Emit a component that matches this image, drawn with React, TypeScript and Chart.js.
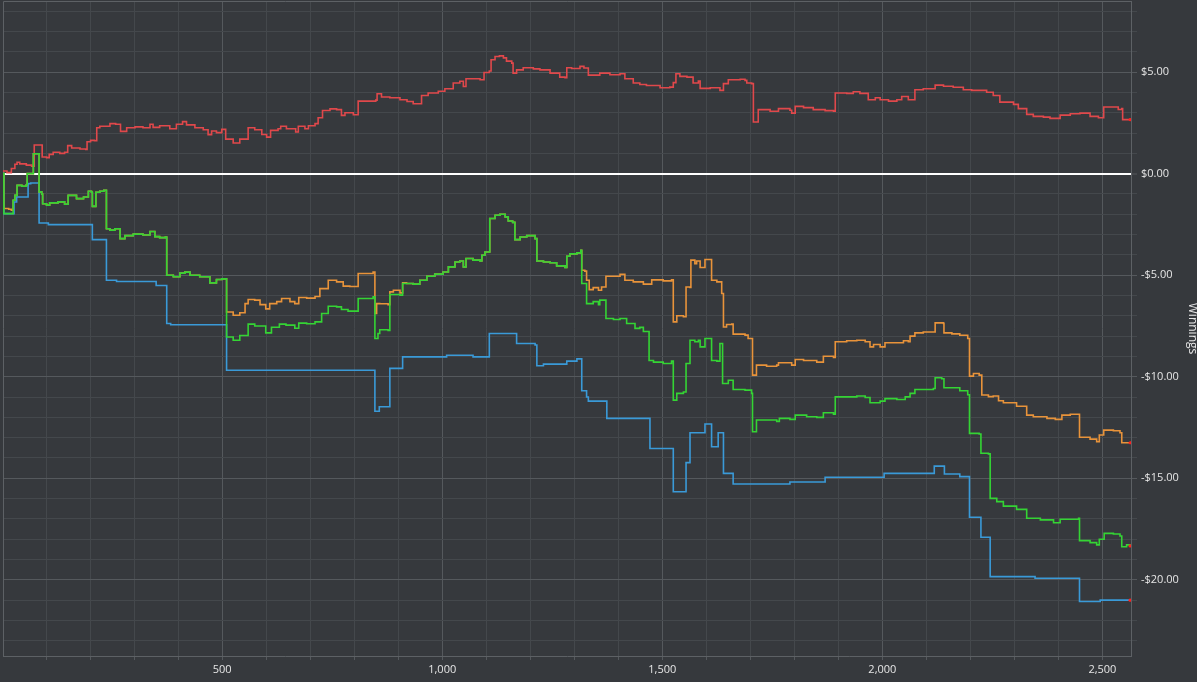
import React, { useEffect, useRef } from "react";
import Chart from "chart.js/auto";

// Hand number / winnings ($) breakpoints (value holds until next point)
const redSeries: [number, number][] = [
  [2, 0.13], [11, 0.05], [21, 0.25], [29, 0.46], [34, 0.56], [40, 0.48], [55, 0.42], [67, 0.36], [73, 1.41], [91, 0.82],
  [101, 0.79], [107, 0.95], [116, 1.05], [131, 1.0], [142, 1.05], [149, 1.38], [158, 1.26], [177, 1.21], [190, 1.19], [193, 1.57],
  [201, 1.64], [210, 1.62], [215, 2.26], [222, 2.33], [245, 2.46], [258, 2.43], [269, 2.08], [283, 2.26], [302, 2.3], [320, 2.26],
  [336, 2.43], [343, 2.28], [358, 2.36], [381, 2.21], [396, 2.43], [410, 2.56], [419, 2.4], [438, 2.26], [457, 2.16], [468, 1.92],
  [476, 2.1], [487, 2.02], [499, 2.18], [508, 1.7], [525, 1.51], [540, 1.7], [559, 2.26], [574, 2.16], [590, 1.93], [601, 1.8],
  [610, 2.13], [627, 2.21], [633, 2.33], [646, 2.21], [667, 2.05], [673, 2.33], [688, 2.21], [696, 2.36], [711, 2.46], [718, 2.75],
  [728, 3.11], [745, 3.19], [760, 3.15], [771, 2.87], [779, 3.0], [798, 2.9], [809, 3.57], [830, 3.57], [849, 3.62], [852, 3.93],
  [862, 3.77], [881, 3.74], [904, 3.64], [920, 3.55], [934, 3.44], [953, 3.85], [968, 3.97], [991, 4.06], [1006, 4.18], [1025, 4.46],
  [1040, 4.55], [1048, 4.29], [1054, 4.67], [1086, 4.62], [1095, 4.98], [1107, 5.05], [1111, 5.61], [1120, 5.77], [1130, 5.8], [1139, 5.7],
  [1146, 5.54], [1158, 5.44], [1161, 4.95], [1169, 5.11], [1184, 5.21], [1207, 5.16], [1222, 5.11], [1245, 4.95], [1267, 4.75], [1279, 4.72],
  [1283, 5.21], [1294, 5.18], [1313, 5.28], [1322, 5.2], [1332, 4.85], [1358, 4.95], [1381, 4.87], [1404, 4.92], [1415, 4.67], [1434, 4.46],
  [1449, 4.39], [1464, 4.34], [1495, 4.23], [1517, 4.26], [1525, 4.48], [1531, 4.92], [1540, 4.79], [1556, 4.75], [1570, 4.46], [1582, 4.56],
  [1586, 4.2], [1609, 4.23], [1631, 4.1], [1639, 4.43], [1650, 4.62], [1677, 4.65], [1688, 4.59], [1692, 4.46], [1703, 4.43], [1707, 2.54],
  [1718, 3.15], [1745, 3.07], [1764, 3.2], [1790, 3.12], [1794, 2.98], [1802, 3.31], [1821, 3.25], [1843, 3.15], [1870, 3.1], [1889, 3.08],
  [1893, 3.97], [1919, 3.95], [1934, 4.03], [1949, 3.95], [1968, 3.64], [1984, 3.74], [1995, 3.64], [2014, 3.57], [2033, 3.64], [2044, 3.8],
  [2059, 3.64], [2074, 4.13], [2093, 4.18], [2120, 4.36], [2139, 4.3], [2161, 4.25], [2184, 4.13], [2203, 4.1], [2237, 4.01], [2252, 3.85],
  [2267, 3.52], [2298, 3.41], [2309, 3.2], [2328, 2.92], [2343, 2.82], [2366, 2.78], [2381, 2.72], [2404, 2.88], [2427, 2.95], [2449, 2.98],
  [2472, 2.82], [2491, 2.75], [2503, 3.28], [2525, 3.28], [2536, 3.16], [2544, 3.2], [2546, 2.66], [2563, 2.66],
];

const orangeSeries: [number, number][] = [
  [2, 0], [4, -1.72], [15, -1.75], [21, -1.8], [25, -1.31], [29, -1.07], [34, -0.58], [45, -0.62], [55, -0.55], [57, 0.0],
  [71, 0.98], [84, -0.9], [90, -1.0], [92, -1.48], [101, -1.56], [108, -1.44], [127, -1.39], [142, -1.51], [150, -1.07], [169, -1.23],
  [185, -1.15], [196, -0.87], [203, -0.92], [205, -1.61], [211, -1.61], [213, -0.92], [222, -0.87], [231, -0.82], [237, -2.71], [245, -2.78],
  [256, -2.71], [268, -3.2], [279, -3.05], [298, -2.98], [320, -3.02], [336, -2.85], [347, -3.1], [358, -3.15], [371, -3.12], [374, -5.0],
  [389, -5.08], [404, -4.9], [415, -4.85], [427, -5.0], [449, -5.08], [472, -5.38], [487, -5.21], [499, -5.18], [510, -6.81], [525, -6.97],
  [540, -6.85], [552, -6.4], [559, -6.2], [574, -6.23], [586, -6.45], [599, -6.66], [608, -6.4], [624, -6.3], [635, -6.15], [654, -6.3],
  [665, -6.4], [674, -6.1], [692, -6.13], [711, -6.05], [722, -5.66], [741, -5.25], [760, -5.33], [775, -5.54], [790, -5.56], [809, -4.92],
  [828, -4.92], [843, -4.85], [847, -6.89], [851, -6.4], [858, -6.41], [877, -6.45], [881, -5.82], [889, -5.74], [904, -5.87], [910, -5.38],
  [919, -5.41], [934, -5.44], [949, -5.25], [965, -5.05], [983, -4.95], [1002, -4.84], [1014, -4.59], [1029, -4.35], [1040, -4.3], [1048, -4.59],
  [1054, -4.18], [1070, -4.26], [1086, -4.3], [1090, -4.02], [1097, -3.86], [1105, -3.86], [1108, -2.21], [1120, -2.05], [1131, -2.0], [1143, -2.13],
  [1150, -2.33], [1160, -2.4], [1165, -3.25], [1177, -3.12], [1192, -3.05], [1211, -3.2], [1215, -4.3], [1230, -4.35], [1245, -4.39], [1260, -4.54],
  [1279, -4.62], [1283, -4.07], [1290, -3.95], [1306, -3.9], [1315, -3.77], [1317, -4.76], [1324, -4.8], [1328, -5.25], [1334, -5.71], [1343, -5.61],
  [1355, -5.74], [1362, -5.58], [1372, -5.05], [1389, -5.05], [1404, -4.96], [1415, -5.25], [1434, -5.33], [1457, -5.44], [1476, -5.23], [1502, -5.28],
  [1521, -5.23], [1525, -7.3], [1533, -7.0], [1548, -7.05], [1554, -5.58], [1563, -5.6], [1565, -4.26], [1574, -4.43], [1578, -4.3], [1586, -4.62],
  [1597, -4.23], [1608, -4.23], [1612, -5.25], [1624, -5.33], [1635, -5.9], [1639, -7.55], [1646, -7.43], [1658, -7.4], [1661, -7.9], [1688, -7.95],
  [1695, -8.12], [1705, -9.92], [1714, -9.43], [1737, -9.48], [1760, -9.43], [1764, -9.31], [1790, -9.31], [1794, -9.43], [1802, -9.15], [1821, -9.2],
  [1851, -9.28], [1866, -8.99], [1889, -9.05], [1893, -8.28], [1919, -8.23], [1942, -8.2], [1961, -8.28], [1972, -8.53], [1980, -8.41], [1995, -8.53],
  [2006, -8.33], [2033, -8.33], [2048, -8.23], [2059, -8.28], [2063, -8.0], [2074, -7.84], [2093, -7.8], [2116, -7.8], [2120, -7.35], [2139, -7.38],
  [2140, -7.84], [2158, -7.89], [2176, -7.96], [2194, -8.12], [2198, -9.97], [2207, -9.84], [2220, -9.92], [2226, -10.9], [2241, -10.98], [2252, -10.95],
  [2264, -11.18], [2275, -11.28], [2305, -11.45], [2328, -11.89], [2343, -11.97], [2374, -12.05], [2393, -12.1], [2408, -11.89], [2427, -11.85], [2446, -11.85],
  [2448, -12.98], [2472, -13.07], [2487, -13.2], [2493, -12.87], [2503, -12.63], [2525, -12.66], [2540, -12.76], [2544, -13.25], [2563, -13.25],
];

const greenSeries: [number, number][] = [
  [2, 0], [4, -1.97], [21, -1.97], [25, -1.31], [29, -1.07], [34, -0.58], [45, -0.62], [55, -0.55], [57, 0.0], [71, 0.98],
  [84, -0.9], [90, -1.0], [92, -1.48], [101, -1.56], [108, -1.44], [127, -1.39], [142, -1.51], [150, -1.07], [169, -1.23], [185, -1.15],
  [196, -0.87], [203, -0.92], [205, -1.61], [211, -1.61], [213, -0.92], [222, -0.87], [231, -0.82], [237, -2.71], [245, -2.78], [256, -2.71],
  [268, -3.2], [279, -3.05], [298, -2.98], [320, -3.02], [336, -2.85], [347, -3.1], [358, -3.15], [371, -3.12], [374, -5.0], [389, -5.08],
  [404, -4.9], [415, -4.85], [427, -5.0], [449, -5.08], [472, -5.38], [487, -5.21], [499, -5.18], [510, -8.04], [525, -8.2], [540, -7.97],
  [559, -7.41], [574, -7.5], [599, -7.84], [612, -7.56], [630, -7.41], [645, -7.46], [665, -7.61], [674, -7.36], [692, -7.39], [711, -7.3],
  [726, -6.89], [741, -6.53], [760, -6.56], [771, -6.69], [786, -6.77], [805, -6.77], [809, -6.15], [828, -6.15], [843, -6.07], [847, -8.12],
  [854, -7.87], [858, -7.69], [877, -7.72], [881, -5.95], [904, -5.98], [910, -5.41], [919, -5.41], [934, -5.44], [949, -5.25], [965, -5.05],
  [983, -4.95], [1002, -4.84], [1014, -4.59], [1029, -4.35], [1040, -4.3], [1048, -4.59], [1054, -4.18], [1070, -4.26], [1086, -4.3], [1090, -4.02],
  [1097, -3.86], [1105, -3.86], [1108, -2.21], [1120, -2.05], [1131, -2.0], [1143, -2.13], [1150, -2.33], [1160, -2.4], [1165, -3.25], [1177, -3.12],
  [1192, -3.05], [1211, -3.2], [1215, -4.3], [1230, -4.35], [1245, -4.39], [1260, -4.54], [1279, -4.62], [1283, -4.07], [1290, -3.95], [1306, -3.9],
  [1315, -3.77], [1317, -5.41], [1328, -6.4], [1343, -6.3], [1355, -6.45], [1358, -6.23], [1372, -7.13], [1389, -7.18], [1404, -7.13], [1419, -7.38],
  [1438, -7.62], [1449, -7.57], [1457, -7.77], [1470, -9.2], [1480, -9.28], [1502, -9.35], [1521, -9.23], [1525, -11.15], [1533, -10.82], [1548, -10.75],
  [1554, -9.35], [1563, -8.2], [1574, -8.28], [1582, -8.2], [1586, -8.53], [1597, -8.12], [1608, -8.12], [1612, -9.2], [1624, -9.23], [1631, -8.36],
  [1637, -10.33], [1650, -10.17], [1661, -10.63], [1688, -10.66], [1703, -10.82], [1705, -12.71], [1714, -12.13], [1760, -12.2], [1766, -12.05], [1790, -12.1],
  [1802, -11.89], [1828, -11.97], [1851, -12.0], [1866, -11.77], [1889, -11.84], [1893, -10.99], [1942, -10.95], [1961, -11.02], [1972, -11.28], [1995, -11.2],
  [2006, -11.08], [2033, -11.12], [2052, -10.99], [2063, -10.82], [2074, -10.63], [2116, -10.58], [2120, -10.05], [2135, -10.1], [2140, -10.54], [2176, -10.69],
  [2194, -10.89], [2198, -12.79], [2220, -12.82], [2224, -13.77], [2241, -13.8], [2245, -15.99], [2260, -16.15], [2275, -16.37], [2305, -16.53], [2328, -16.97],
  [2359, -17.05], [2389, -17.19], [2404, -17.02], [2446, -16.97], [2448, -18.07], [2472, -18.17], [2487, -18.28], [2493, -18.0], [2504, -17.71], [2525, -17.74],
  [2540, -17.84], [2544, -18.37], [2555, -18.28], [2563, -18.33],
];

const blueSeries: [number, number][] = [
  [2, 0], [4, -1.97], [27, -1.4], [33, -1.15], [59, -0.49], [65, -0.46], [84, -2.43], [105, -2.51], [205, -3.25], [237, -5.25],
  [260, -5.31], [350, -5.51], [374, -7.38], [383, -7.44], [510, -9.68], [847, -11.7], [857, -11.48], [881, -9.59], [910, -9.02], [1010, -8.94],
  [1070, -9.02], [1107, -7.87], [1169, -8.36], [1211, -8.44], [1215, -9.46], [1230, -9.38], [1283, -9.23], [1306, -9.12], [1317, -10.69], [1328, -11.0],
  [1332, -11.2], [1374, -12.05], [1472, -13.53], [1525, -15.66], [1554, -14.23], [1563, -12.76], [1597, -12.33], [1612, -13.45], [1627, -12.76], [1639, -14.76],
  [1661, -15.28], [1790, -15.18], [1870, -14.95], [2004, -14.76], [2118, -14.4], [2141, -14.79], [2176, -14.92], [2198, -16.92], [2224, -17.9], [2245, -19.84],
  [2347, -19.92], [2448, -21.07], [2495, -21.0], [2563, -21.0],
];

const seriesNames = ["Green", "Orange", "Red", "Blue"];
const xMin = 2;
const xMax = 2565;
const yMin = -23.75;
const yMax = 8.5;
const xLabelEvery = 500;
const yLabelEvery = 5;

const BG = "#36393d";
const GRID_MAJOR = "#55595d";
const GRID_MINOR = "#44484c";
const FRAME = "#5d6165";
const TEXT = "#e6e6e6";

function fmtMoney(v: number): string {
  const s = "$" + Math.abs(v).toFixed(2);
  return v < 0 ? "-" + s : s;
}

const framePlugin = {
  id: "frame",
  beforeDatasetsDraw(chart: any) {
    const { ctx, chartArea } = chart;
    ctx.save();
    ctx.strokeStyle = FRAME;
    ctx.lineWidth = 1;
    ctx.beginPath();
    ctx.moveTo(chartArea.left + 0.5, chartArea.bottom);
    ctx.lineTo(chartArea.left + 0.5, chartArea.top + 0.5);
    ctx.lineTo(chartArea.right, chartArea.top + 0.5);
    ctx.stroke();
    ctx.restore();
  },
};

export default function App() {
  const ref = useRef<HTMLCanvasElement | null>(null);

  useEffect(() => {
    document.body.style.margin = "0";
    document.body.style.background = BG;
    const canvas = ref.current;
    if (!canvas) return;
    const toPts = (s: [number, number][]) => s.map(([x, y]) => ({ x, y }));
    const series = [greenSeries, orangeSeries, redSeries, blueSeries];
    const colors = ["#34d434", "#e8933a", "#e0484b", "#3a9ad8"];
    const chart = new Chart(canvas, {
      type: "line",
      data: {
        datasets: series.map((s, i) => ({
          label: seriesNames[i],
          data: toPts(s),
          borderColor: colors[i],
          borderWidth: 1.6,
          stepped: true,
          fill: false,
          pointRadius: (c: any) => (c.dataIndex === s.length - 1 ? 1.6 : 0),
          pointHoverRadius: 0,
          pointBackgroundColor: "#ff2020",
          pointBorderWidth: 0,
        })),
      },
      options: {
        animation: false,
        responsive: false,
        maintainAspectRatio: false,
        layout: { autoPadding: false, padding: { left: 3, top: 1, right: 0, bottom: 0 } },
        plugins: { legend: { display: false }, tooltip: { enabled: false } },
        scales: {
          x: {
            type: "linear",
            position: "bottom",
            min: xMin,
            max: xMax,
            afterFit: (s: any) => {
              s.height = 26;
              s.paddingLeft = 0;
              s.paddingRight = 0;
            },
            ticks: {
              stepSize: 100,
              includeBounds: false,
              autoSkip: false,
              maxRotation: 0,
              padding: 3,
              color: TEXT,
              font: { family: "'Open Sans'", size: 11 },
              callback: (v: any) => (Number(v) % xLabelEvery === 0 ? Number(v).toLocaleString("en-US") : ""),
            },
            grid: {
              color: (c: any) => (c.tick && c.tick.value % xLabelEvery === 0 ? GRID_MAJOR : GRID_MINOR),
              tickColor: GRID_MAJOR,
              tickLength: 4,
              lineWidth: 1,
            },
            border: { color: FRAME, width: 1 },
          },
          y: {
            type: "linear",
            position: "right",
            min: yMin,
            max: yMax,
            afterFit: (s: any) => {
              s.width = 66;
              s.paddingTop = 0;
              s.paddingBottom = 0;
            },
            ticks: {
              stepSize: 1,
              includeBounds: false,
              autoSkip: false,
              padding: 4,
              color: TEXT,
              font: { family: "'Open Sans'", size: 11 },
              callback: (v: any) => (Number(v) % yLabelEvery === 0 ? fmtMoney(Number(v)) : ""),
            },
            grid: {
              color: (c: any) =>
                c.tick && c.tick.value === 0 ? "#ffffff" : c.tick && c.tick.value % yLabelEvery === 0 ? GRID_MAJOR : GRID_MINOR,
              lineWidth: (c: any) => (c.tick && c.tick.value === 0 ? 2 : 1),
              tickColor: (c: any) => (c.tick && c.tick.value % yLabelEvery === 0 ? GRID_MAJOR : GRID_MINOR),
              tickWidth: 1,
              tickLength: 6,
            },
            border: { color: FRAME, width: 1 },
            title: {
              display: true,
              text: "Winnings",
              color: TEXT,
              font: { family: "'Open Sans'", size: 12 },
              padding: { top: -3, bottom: 0 },
            },
          },
        },
      },
      plugins: [framePlugin],
    } as any);
    return () => chart.destroy();
  }, []);

  return (
    <div style={{ width: 1197, height: 682, background: BG }}>
      <canvas ref={ref} width={1197} height={682} style={{ display: "block", width: 1197, height: 682 }} />
    </div>
  );
}
